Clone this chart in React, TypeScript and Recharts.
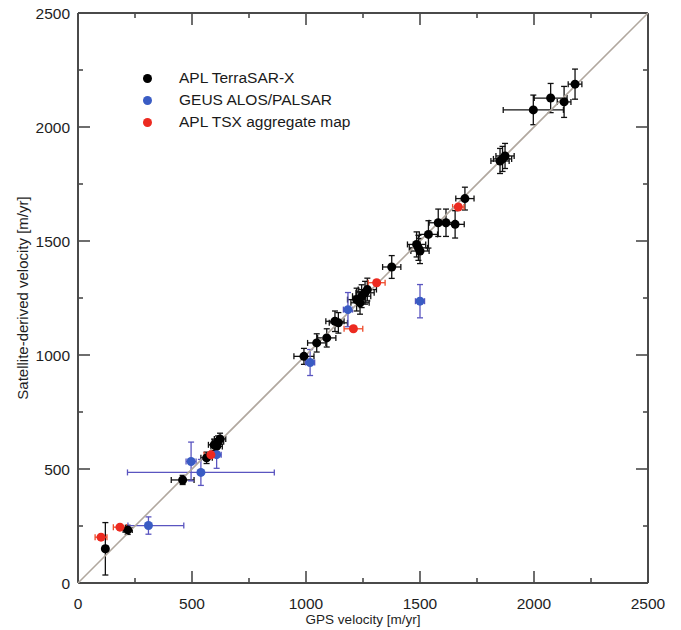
import React from "react";
import { ScatterChart, Scatter, XAxis, YAxis, ErrorBar, Legend, Label } from "recharts";

const FONT = "'Liberation Sans', Arial, Helvetica, sans-serif";
const AXIS = "#4a4a4a";

// APL TerraSAR-X
const tsxGps = [120, 218, 459, 564, 597, 608, 614, 623, 991, 1047, 1091, 1127, 1142, 1222, 1237, 1244, 1259, 1269, 1376, 1485, 1493, 1500, 1537, 1580, 1614, 1654, 1697, 1851, 1862, 1873, 1997, 2073, 2132, 2180];
const tsxSat = [150, 233, 452, 549, 606, 599, 620, 632, 994, 1053, 1075, 1148, 1141, 1243, 1229, 1258, 1273, 1287, 1386, 1485, 1470, 1456, 1529, 1580, 1580, 1573, 1686, 1851, 1860, 1873, 2075, 2127, 2110, 2188];
const tsxGpsErr = [12, 20, 50, 25, 25, 25, 25, 25, 44, 40, 40, 40, 40, 40, 40, 40, 40, 40, 40, 40, 40, 40, 40, 40, 40, 40, 40, 40, 40, 40, 132, 72, 30, 30];
const tsxSatErr = [115, 20, 20, 25, 25, 25, 25, 25, 35, 40, 40, 45, 45, 50, 50, 50, 50, 50, 50, 55, 55, 55, 60, 60, 60, 60, 50, 55, 55, 55, 65, 64, 68, 66];

// GEUS ALOS/PALSAR
const alosGps = [309, 496, 539, 608, 1018, 1184, 1500];
const alosSat = [252, 533, 485, 563, 967, 1199, 1236];
const alosGpsErr: (number | number[])[] = [[90, 155], 22, 322, 20, 20, 20, 20];
const alosSatErr = [38, 85, 57, 60, 57, 75, 73];

// APL TSX aggregate map
const aggGps = [101, 184, 583, 1208, 1310, 1668];
const aggSat = [201, 245, 562, 1115, 1317, 1649];
const aggGpsErr = [26, 29, 30, 41, 37, 25];
const aggSatErr = [8, 8, 10, 10, 10, 10];

const seriesNames = ["APL TerraSAR-X", "GEUS ALOS/PALSAR", "APL TSX aggregate map"];
const majorTicks = [0, 500, 1000, 1500, 2000, 2500];
const minorTicks = [250, 750, 1250, 1750, 2250];

const toRows = (xs: number[], ys: number[], xe: any[], ye: any[]) =>
  xs.map((x, i) => ({ x, y: ys[i], xErr: xe[i], yErr: ye[i] }));

const tsxRows = toRows(tsxGps, tsxSat, tsxGpsErr, tsxSatErr);
const alosRows = toRows(alosGps, alosSat, alosGpsErr, alosSatErr);
const aggRows = toRows(aggGps, aggSat, aggGpsErr, aggSatErr);
const oneToOne = [{ x: 0, y: 0 }, { x: 2500, y: 2500 }];

const LO = 0;
const HI = 2500;
const DOMAIN: [number, number] = [LO, HI];
const MAJOR = 12;
const MINOR = 5;

// anchor points for the inward frame ticks; the shape draws the stub in pixels
const frameTicks = [
  ...majorTicks.map((v) => ({ v, len: MAJOR })),
  ...minorTicks.map((v) => ({ v, len: MINOR })),
].flatMap(({ v, len }) => [
  { x: v, y: LO, dx: 0, dy: -len },
  { x: v, y: HI, dx: 0, dy: len },
  { x: LO, y: v, dx: len, dy: 0 },
  { x: HI, y: v, dx: -len, dy: 0 },
]);

const tickShape = (props: any) => {
  const { cx, cy, payload } = props;
  return <line x1={cx} y1={cy} x2={cx + payload.dx} y2={cy + payload.dy} stroke={AXIS} strokeWidth={1.6} />;
};

const labelStyle = { fontFamily: FONT, fontSize: 15.5, fill: "#1e1e1e" };
const noLabel = () => "";

function BottomLabel({ x, y, payload }: any) {
  return (
    <text x={x} y={y + 20} textAnchor="middle" dominantBaseline="central" style={labelStyle}>
      {payload.value}
    </text>
  );
}

function LeftLabel({ x, y, payload }: any) {
  return (
    <text x={x - 8} y={y} textAnchor="end" dominantBaseline="central" style={labelStyle}>
      {payload.value}
    </text>
  );
}

const xTitle = ({ viewBox }: any) => (
  <text x={viewBox.x + viewBox.width / 2} y={619} textAnchor="middle" dominantBaseline="central"
    style={{ fontFamily: FONT, fontSize: 13.5, fill: "#1e1e1e" }}>
    GPS velocity [m/yr]
  </text>
);

const yTitle = ({ viewBox }: any) => {
  const cx = 22;
  const cy = viewBox.y + viewBox.height / 2;
  return (
    <text x={cx} y={cy} transform={`rotate(-90 ${cx} ${cy})`} textAnchor="middle" dominantBaseline="central"
      style={{ fontFamily: FONT, fontSize: 15, fill: "#1e1e1e" }}>
      Satellite-derived velocity [m/yr]
    </text>
  );
};

const dot = (fill: string) => (props: any) => <circle cx={props.cx} cy={props.cy} r={4.5} fill={fill} />;

function LegendBox({ payload }: any) {
  const items = [...(payload || [])]
    .filter((p: any) => seriesNames.includes(p.value))
    .sort((a: any, b: any) => seriesNames.indexOf(a.value) - seriesNames.indexOf(b.value));
  return (
    <div style={{ fontFamily: FONT, fontSize: 15.5, color: "#1a1a1a" }}>
      {items.map((p: any) => (
        <div key={p.value} style={{ display: "flex", alignItems: "center", height: 22 }}>
          <span style={{ width: 9, height: 9, borderRadius: "50%", background: p.color, marginRight: 27 }} />
          {p.value}
        </div>
      ))}
    </div>
  );
}

export default function App() {
  return (
    <div style={{ position: "absolute", left: 0, top: 0, background: "#fff" }}>
      <ScatterChart width={681} height={630} margin={{ top: 12, right: 32, bottom: 0, left: 0 }}>
        <XAxis type="number" dataKey="x" domain={DOMAIN} ticks={majorTicks} interval={0}
          height={47} tickSize={0} tickMargin={0} tickLine={false} tick={<BottomLabel />}
          axisLine={{ stroke: AXIS, strokeWidth: 2 }}>
          <Label content={xTitle} />
        </XAxis>
        <XAxis xAxisId="top" orientation="top" type="number" domain={DOMAIN} ticks={majorTicks} interval={0}
          height={1} tickSize={0} tickLine={false} tickFormatter={noLabel}
          axisLine={{ stroke: AXIS, strokeWidth: 2 }} />
        <YAxis type="number" dataKey="y" domain={DOMAIN} ticks={majorTicks} interval={0}
          width={78} tickSize={0} tickMargin={0} tickLine={false} tick={<LeftLabel />}
          axisLine={{ stroke: AXIS, strokeWidth: 2 }}>
          <Label content={yTitle} />
        </YAxis>
        <YAxis yAxisId="right" orientation="right" type="number" domain={DOMAIN} ticks={majorTicks} interval={0}
          width={1} tickSize={0} tickLine={false} tickFormatter={noLabel}
          axisLine={{ stroke: AXIS, strokeWidth: 2 }} />

        <Scatter data={frameTicks} legendType="none" shape={tickShape} isAnimationActive={false} />

        <Scatter data={oneToOne} legendType="none" line={{ stroke: "#b1a89f", strokeWidth: 1.6 }}
          shape={() => <g />} isAnimationActive={false} />

        <Scatter name="APL TerraSAR-X" data={tsxRows} fill="#000000" shape={dot("#000000")} isAnimationActive={false}>
          <ErrorBar dataKey="xErr" direction="x" width={3} stroke="#111" strokeWidth={1.3} />
          <ErrorBar dataKey="yErr" direction="y" width={3} stroke="#111" strokeWidth={1.3} />
        </Scatter>
        <Scatter name="GEUS ALOS/PALSAR" data={alosRows} fill="#3a5cc4" shape={dot("#3a5cc4")} isAnimationActive={false}>
          <ErrorBar dataKey="xErr" direction="x" width={3} stroke="#5a55c0" strokeWidth={1.3} />
          <ErrorBar dataKey="yErr" direction="y" width={3} stroke="#5a55c0" strokeWidth={1.3} />
        </Scatter>
        <Scatter name="APL TSX aggregate map" data={aggRows} fill="#ec2a20" shape={dot("#ec2a20")} isAnimationActive={false}>
          <ErrorBar dataKey="xErr" direction="x" width={3} stroke="#ee4a2a" strokeWidth={1.3} />
          <ErrorBar dataKey="yErr" direction="y" width={3} stroke="#ee4a2a" strokeWidth={1.3} />
        </Scatter>

        <Legend layout="vertical" align="center" verticalAlign="middle" content={<LegendBox />}
          wrapperStyle={{ left: 143, top: 67, width: "auto" }} />
      </ScatterChart>
    </div>
  );
}
